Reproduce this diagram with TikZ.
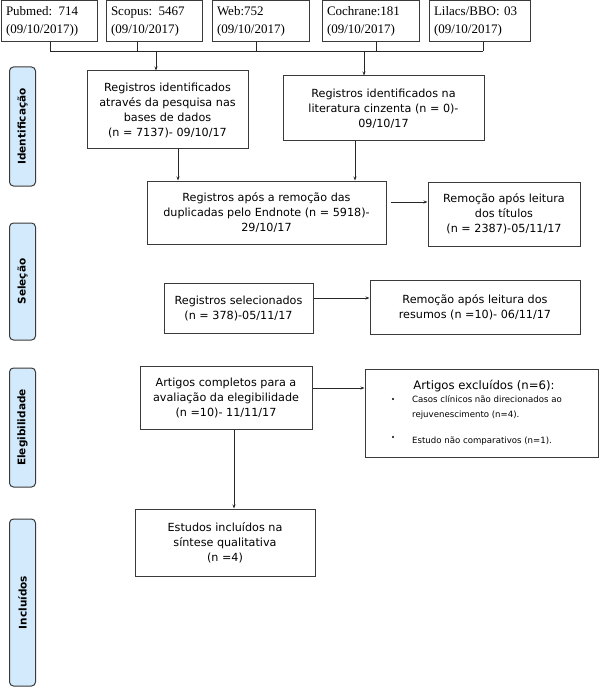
\documentclass[tikz,border=0pt]{standalone}
\usepackage{fontspec}
\setmainfont{DejaVu Sans}
\newfontfamily\serifface{Liberation Serif}
\usetikzlibrary{arrows.meta}
\definecolor{boxline}{HTML}{3A3A3A}
\definecolor{phasefill}{HTML}{D2EAFB}
\tikzset{
  box/.style={draw=boxline, line width=1pt, inner sep=2pt, align=center,
    font=\fontsize{11.2}{15}\selectfont},
  srcbox/.style={draw=boxline, line width=1pt, inner xsep=5pt, inner ysep=0pt,
    align=left, text width=#1, minimum height=41pt,
    font=\serifface\fontsize{13}{18}\selectfont},
  phase/.style={draw=boxline, line width=1pt, fill=phasefill, rounded corners=4pt,
    minimum height=26pt, rotate=90, inner sep=0pt,
    font=\bfseries\fontsize{10.5}{12}\selectfont},
  conn/.style={draw=black!85, line width=0.8pt},
  arr/.style={conn, -{Stealth[length=4pt,width=3pt]}},
  small/.style={anchor=base west, inner sep=0pt, font=\fontsize{8.6}{10}\selectfont}
}
\begin{document}
\begin{tikzpicture}[x=1pt,y=-1pt]
\useasboundingbox (0,0) rectangle (600,687);
% sources
\node[srcbox=86pt] (pub) at (49,21.5) {Pubmed: 714\\(09/10/2017))};
\node[srcbox=86pt] (sco) at (154,21.5) {Scopus: 5467\\(09/10/2017)};
\node[srcbox=87pt] (web) at (260.5,21.5) {Web:752\\(09/10/2017)};
\node[srcbox=87pt] (coc) at (370.5,21.5) {Cochrane:181\\(09/10/2017)};
\node[srcbox=91pt] (lil) at (479.5,21.5) {Lilacs/BBO: 03\\(09/10/2017)};
% phases
\node[phase, minimum width=119pt] (p1) at (22.5,126.5) {Identificação};
\node[phase, minimum width=117pt] (p2) at (22.5,281.5) {Seleção};
\node[phase, minimum width=119pt] (p3) at (22.5,427.5) {Elegibilidade};
\node[phase, minimum width=167pt] (p4) at (22.5,602.5) {Incluídos};
% main boxes
\node[box, minimum width=161pt, minimum height=78pt] (id1) at (167.5,110)
  {Registros identificados\\através da pesquisa nas\\bases de dados\\(n = 7137)- 09/10/17};
\node[box, minimum width=201pt, minimum height=65pt] (id2) at (383.5,108.5)
  {Registros identificados na\\literatura cinzenta (n = 0)-\\09/10/17};
\node[box, minimum width=239pt, minimum height=63pt] (dup) at (266.5,212.5)
  {Registros após a remoção das\\duplicadas pelo Endnote (n = 5918)-\\29/10/17};
\node[box, minimum width=152pt, minimum height=64pt] (remt) at (504,214)
  {Remoção após leitura\\dos títulos\\(n = 2387)-05/11/17};
\node[box, minimum width=149pt, minimum height=50pt] (sel) at (238.5,308)
  {Registros selecionados\\(n = 378)-05/11/17};
\node[box, minimum width=210pt, minimum height=54pt] (remr) at (475,307)
  {Remoção após leitura dos\\resumos (n =10)- 06/11/17};
\node[box, minimum width=172pt, minimum height=63pt] (art) at (226,397.5)
  {Artigos completos para a\\avaliação da elegibilidade\\(n =10)- 11/11/17};
\node[draw=boxline, line width=1pt, minimum width=233pt, minimum height=88pt] (exc) at (481.5,413) {};
\node[inner sep=0pt, font=\fontsize{11.7}{14}\selectfont, anchor=base] (exct) at (484,389) {Artigos excluídos (n=6):};
\node[small] (exc1) at (412,402) {Casos clínicos não direcionados ao};
\node[small] (exc2) at (412,417) {rejuvenescimento (n=4).};
\node[small] (exc3) at (412,443) {Estudo não comparativos (n=1).};
\fill (393,399) circle (1.1pt);
\fill (393,437) circle (1.1pt);
\node[box, minimum width=180pt, minimum height=67pt] (inc) at (225,542.5)
  {Estudos incluídos na\\síntese qualitativa\\(n =4)};
% top bus
\coordinate (busL) at (50,51);
\coordinate (busR) at (483,51);
\draw[conn] (busL) -- (busR);
\draw[conn] ([xshift=1pt]pub.south) -- ([xshift=1pt]pub.south |- busL);
\draw[conn] ([xshift=-17pt]sco.south) -- ([xshift=-17pt]sco.south |- busL);
\draw[conn] ([xshift=-4.5pt]web.south) -- ([xshift=-4.5pt]web.south |- busL);
\draw[conn] ([xshift=5.5pt]coc.south) -- ([xshift=5.5pt]coc.south |- busL);
\draw[conn] ([xshift=3.5pt]lil.south) -- ([xshift=3.5pt]lil.south |- busL);
\draw[arr] ([xshift=-11.5pt]id1.north |- busL) -- ([xshift=-11.5pt]id1.north);
\draw[arr] ([xshift=-19.5pt]id2.north |- busL) -- ([xshift=-19.5pt]id2.north);
% flow
\draw[arr] ([xshift=10.5pt]id1.south) -- ([xshift=10.5pt]id1.south |- dup.north);
\draw[arr] ([xshift=-28.5pt]id2.south) -- ([xshift=-28.5pt]id2.south |- dup.north);
\draw[arr] ([shift={(4pt,10.5pt)}]dup.east) coordinate (a1) -- (a1 -| remt.west);
\draw[arr] ([yshift=10pt]sel.east) coordinate (a2) -- (a2 -| remr.west);
\draw[arr] ([yshift=9.5pt]art.east) coordinate (a3) -- (a3 -| exc.west);
\draw[arr] ([xshift=8pt]art.south) -- ([xshift=8pt]art.south |- inc.north);
\end{tikzpicture}
\end{document}
